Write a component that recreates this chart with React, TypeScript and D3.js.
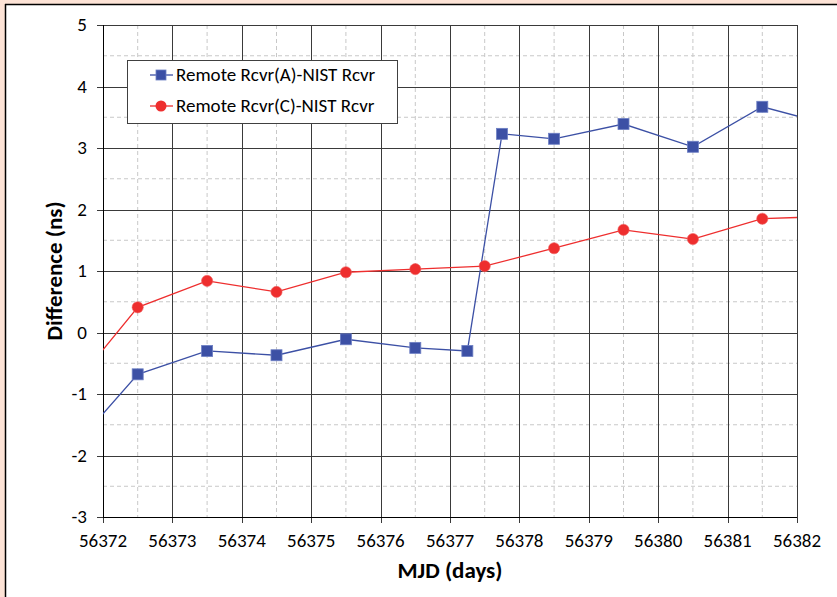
import React from "react";
import * as d3 from "d3";

const xTicks = [56372, 56373, 56374, 56375, 56376, 56377, 56378, 56379, 56380, 56381, 56382];
const yTicks = [-3, -2, -1, 0, 1, 2, 3, 4, 5];

const seriesAName = "Remote Rcvr(A)-NIST Rcvr";
const seriesAX = [56371.5, 56372.5, 56373.5, 56374.5, 56375.5, 56376.5, 56377.25, 56377.75, 56378.5, 56379.5, 56380.5, 56381.5, 56382.5];
const seriesAY = [-1.96, -0.68, -0.3, -0.37, -0.11, -0.25, -0.3, 3.23, 3.15, 3.39, 3.02, 3.67, 3.37];

const seriesCName = "Remote Rcvr(C)-NIST Rcvr";
const seriesCX = [56371.5, 56372.5, 56373.5, 56374.5, 56375.5, 56376.5, 56377.5, 56378.5, 56379.5, 56380.5, 56381.5, 56382.5];
const seriesCY = [-0.97, 0.41, 0.84, 0.66, 0.98, 1.03, 1.08, 1.37, 1.67, 1.52, 1.85, 1.89];

const W = 837;
const H = 597;
const L = 103, R = 797, T = 25, B = 517;
const FONT = "Carlito, Calibri, Lato, sans-serif";
const BLUE = "#3c50a5";
const RED = "#ee2e2e";

export default function App() {
  const x = d3.scaleLinear().domain([56372, 56382]).range([L, R]);
  const y = d3.scaleLinear().domain([-3, 5]).range([B, T]);
  const minorX = d3.range(xTicks.length - 1).map((i) => (xTicks[i] + xTicks[i + 1]) / 2);
  const minorY = d3.range(yTicks.length - 1).map((i) => (yTicks[i] + yTicks[i + 1]) / 2);
  const ptsA = seriesAX.map((v, i) => [v, seriesAY[i]] as [number, number]);
  const ptsC = seriesCX.map((v, i) => [v, seriesCY[i]] as [number, number]);
  const line = d3.line<[number, number]>().x((d) => x(d[0])).y((d) => y(d[1]));

  return (
    <svg width={W} height={H} style={{ position: "absolute", left: 0, top: 0 }} fontFamily={FONT}>
      <rect x={0} y={0} width={W} height={H} fill="#fde3d6" />
      <rect x={5} y={4} width={W - 5} height={H - 4} fill="#ffffff" />
      <line x1={5} x2={W} y1={4.5} y2={4.5} stroke="#000" strokeWidth={1.5} />
      <line x1={5.5} x2={5.5} y1={4} y2={H} stroke="#000" strokeWidth={1.5} />
      <defs>
        <clipPath id="plotclip">
          <rect x={L} y={T - 8} width={R - L} height={B - T + 16} />
        </clipPath>
        <clipPath id="lineclip">
          <rect x={L} y={T} width={R - L} height={B - T} />
        </clipPath>
      </defs>
      {/* minor grid */}
      {minorX.map((v) => (
        <line key={"mx" + v} x1={x(v)} x2={x(v)} y1={T} y2={B} stroke="#c8c8c8" strokeDasharray="4,3" />
      ))}
      {minorY.map((v) => (
        <line key={"my" + v} x1={L} x2={R} y1={y(v)} y2={y(v)} stroke="#c8c8c8" strokeDasharray="4,3" />
      ))}
      {/* major grid */}
      {xTicks.map((v) => (
        <line key={"gx" + v} x1={Math.round(x(v)) + 0.5} x2={Math.round(x(v)) + 0.5} y1={T} y2={B + 6} stroke="#3a3a3a" />
      ))}
      {yTicks.map((v) => (
        <line key={"gy" + v} x1={L - 6} x2={R} y1={Math.round(y(v)) + 0.5} y2={Math.round(y(v)) + 0.5} stroke="#3a3a3a" />
      ))}
      <line x1={L + 0.5} x2={L + 0.5} y1={T} y2={B} stroke="#000" />
      <line x1={L} x2={R} y1={B + 0.5} y2={B + 0.5} stroke="#000" />
      {/* tick labels */}
      {yTicks.map((v) => (
        <text key={"ty" + v} x={87} y={y(v)} dy="0.33em" textAnchor="end" fontSize={19} fill="#000">
          {v}
        </text>
      ))}
      {xTicks.map((v) => (
        <text key={"tx" + v} x={x(v)} y={547} textAnchor="middle" fontSize={19} fill="#000">
          {v}
        </text>
      ))}
      {/* series */}
      <g clipPath="url(#lineclip)">
        <path d={line(ptsA) || ""} fill="none" stroke={BLUE} strokeWidth={1.3} />
        <path d={line(ptsC) || ""} fill="none" stroke={RED} strokeWidth={1.3} />
      </g>
      <g clipPath="url(#plotclip)">
        {ptsA.map((p, i) => (
          <rect key={"a" + i} x={x(p[0]) - 5.5} y={y(p[1]) - 5.5} width={11} height={11} fill={BLUE} stroke="#6d7fc4" strokeWidth={0.8} />
        ))}
        {ptsC.map((p, i) => (
          <circle key={"c" + i} cx={x(p[0])} cy={y(p[1])} r={5.6} fill={RED} stroke="#f06060" strokeWidth={0.6} />
        ))}
      </g>
      {/* legend */}
      <rect x={127.5} y={60.5} width={270} height={63} fill="#fff" stroke="#404040" />
      <line x1={150} x2={173} y1={75} y2={75} stroke={BLUE} strokeWidth={1.3} />
      <rect x={156} y={70} width={10} height={10} fill={BLUE} stroke="#6d7fc4" strokeWidth={0.8} />
      <text x={176} y={75} dy="0.33em" fontSize={19} fill="#000">{seriesAName}</text>
      <line x1={150} x2={173} y1={106} y2={106} stroke={RED} strokeWidth={1.3} />
      <circle cx={161} cy={106} r={5.5} fill={RED} />
      <text x={176} y={106} dy="0.33em" fontSize={19} fill="#000">{seriesCName}</text>
      {/* axis titles */}
      <text x={450} y={578} textAnchor="middle" fontSize={23} fontWeight="bold" fill="#000">MJD (days)</text>
      <text transform="translate(62,271) rotate(-90)" textAnchor="middle" fontSize={23} fontWeight="bold" fill="#000">Difference (ns)</text>
    </svg>
  );
}
